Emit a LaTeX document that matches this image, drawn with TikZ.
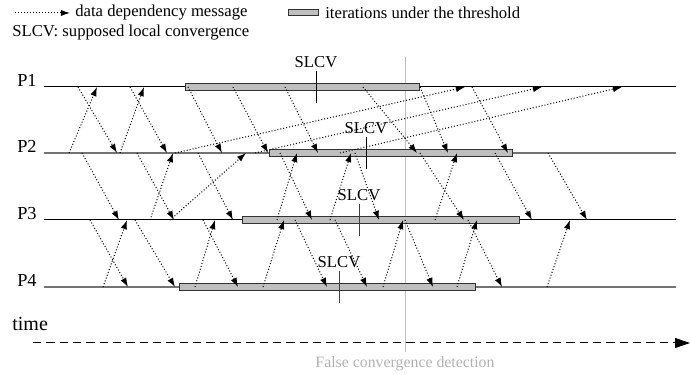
\documentclass[tikz,border=0pt]{standalone}
\usepackage{fontspec}
\setmainfont{Liberation Serif}
\usetikzlibrary{arrows.meta}

\tikzset{
  msg/.style={line width=0.6pt, dash pattern=on 0.6pt off 1.2pt,
    -{Latex[length=5.5pt,width=3.8pt]}},
  iterbar/.style={draw=black!80, fill=black!25, line width=0.6pt},
  slcvtick/.style={line width=0.6pt},
  slcvlabel/.style={anchor=south, inner sep=1.5pt}
}

\begin{document}
\begin{tikzpicture}[x=0.6pt,y=-0.6pt]
    \useasboundingbox (0,0) rectangle (690,375);

    % legend
    \coordinate (lgA) at (15,13);
    \coordinate (lgB) at (70,13);
    \draw[msg] (lgA) -- (lgB);
    \node[anchor=west, inner sep=0pt] (lgmsg) at (75,13) {data dependency message};
    \draw[iterbar] (288,10) rectangle (318,16);
    \node[anchor=west, inner sep=0pt] (lgbar) at (325,13) {iterations under the threshold};
    \node[anchor=west, inner sep=0pt] (lgslcv) at (12,33) {SLCV: supposed local convergence};

    % false convergence line
    \coordinate (fcT) at (405,57);
    \coordinate (fcB) at (405,352);
    \draw[black!25, line width=0.6pt] (fcT) -- (fcB);
    \node[anchor=base, text=black!30, font=\fontsize{9.5}{11}\selectfont] (fclabel) at (405,368) {False convergence detection};

    % draw process lines
    \foreach \p/\y/\c/\w in {1/87/black/0.6pt, 2/153/black!55/0.9pt, 3/220/black/0.6pt, 4/287/black!55/0.9pt} {
      \coordinate (P\p s) at (44,\y);
      \coordinate (P\p e) at (676,\y);
      \draw[draw=\c, line width=\w] (P\p s) -- (P\p e);
      \node[anchor=base east, inner sep=0pt, font=\fontsize{11}{13}\selectfont] (lbl\p) at (37,\y) {P\p};
    }

    % draw iteration bars
    \draw[iterbar] (185,83.5) rectangle (419,90.5);
    \draw[iterbar] (269,149.5) rectangle (512,156.5);
    \draw[iterbar] (242,216.5) rectangle (519,223.5);
    \draw[iterbar] (179,283.5) rectangle (475,290.5);

    % draw SLCV marks
    \foreach \x/\y/\c [count=\i] in {316/87/black, 366/153/black, 359/220/black!75, 339/287/black!75} {
      \coordinate (sT\i) at (\x,\y-16);
      \coordinate (sB\i) at (\x,\y+16);
      \draw[slcvtick, draw=\c] (sT\i) -- (sB\i);
      \node[slcvlabel] (slcv\i) at (sT\i) {SLCV};
    }

    % messages P1 -> P2
    \foreach \a/\b [count=\i] in {78/117, 130/167, 188/222, 233/268, 285/318, 363/417, 420/448, 472/508} {
      \coordinate (d12a\i) at (\a,87);
      \coordinate (d12b\i) at (\b,153);
      \draw[msg] (d12a\i) -- (d12b\i);
    }
    % messages P2 -> P1
    \foreach \a/\b [count=\i] in {69/97, 120/144, 175/465, 255/542, 340/622} {
      \coordinate (u21a\i) at (\a,153);
      \coordinate (u21b\i) at (\b,87);
      \draw[msg] (u21a\i) -- (u21b\i);
    }
    % messages P2 -> P3
    \foreach \a/\b [count=\i] in {82/119, 137/174, 198/233, 280/312, 355/379, 420/464, 495/532, 548/587} {
      \coordinate (d23a\i) at (\a,153);
      \coordinate (d23b\i) at (\b,220);
      \draw[msg] (d23a\i) -- (d23b\i);
    }
    % messages P3 -> P2
    \foreach \a/\b [count=\i] in {150/173, 170/246, 277/297, 330/351, 435/457} {
      \coordinate (u32a\i) at (\a,220);
      \coordinate (u32b\i) at (\b,153);
      \draw[msg] (u32a\i) -- (u32b\i);
    }
    % messages P3 -> P4
    \foreach \a/\b [count=\i] in {90/128, 135/175, 203/238, 295/327, 335/367, 405/433, 468/502} {
      \coordinate (d34a\i) at (\a,220);
      \coordinate (d34b\i) at (\b,287);
      \draw[msg] (d34a\i) -- (d34b\i);
    }
    % messages P4 -> P3
    \foreach \a/\b [count=\i] in {103/127, 195/215, 263/284, 383/403, 457/477, 547/570} {
      \coordinate (u43a\i) at (\a,287);
      \coordinate (u43b\i) at (\b,220);
      \draw[msg] (u43a\i) -- (u43b\i);
    }

    % time axis
    \coordinate (tA) at (33,343);
    \coordinate (tB) at (690,343);
    \draw[line width=0.6pt, dash pattern=on 5pt off 3pt, -{Triangle[length=9pt,width=6pt]}] (tA) -- (tB);
    \node[anchor=base west, inner sep=0pt, font=\fontsize{12}{14}\selectfont] (timelbl) at (12,331) {time};
\end{tikzpicture}
\end{document}
